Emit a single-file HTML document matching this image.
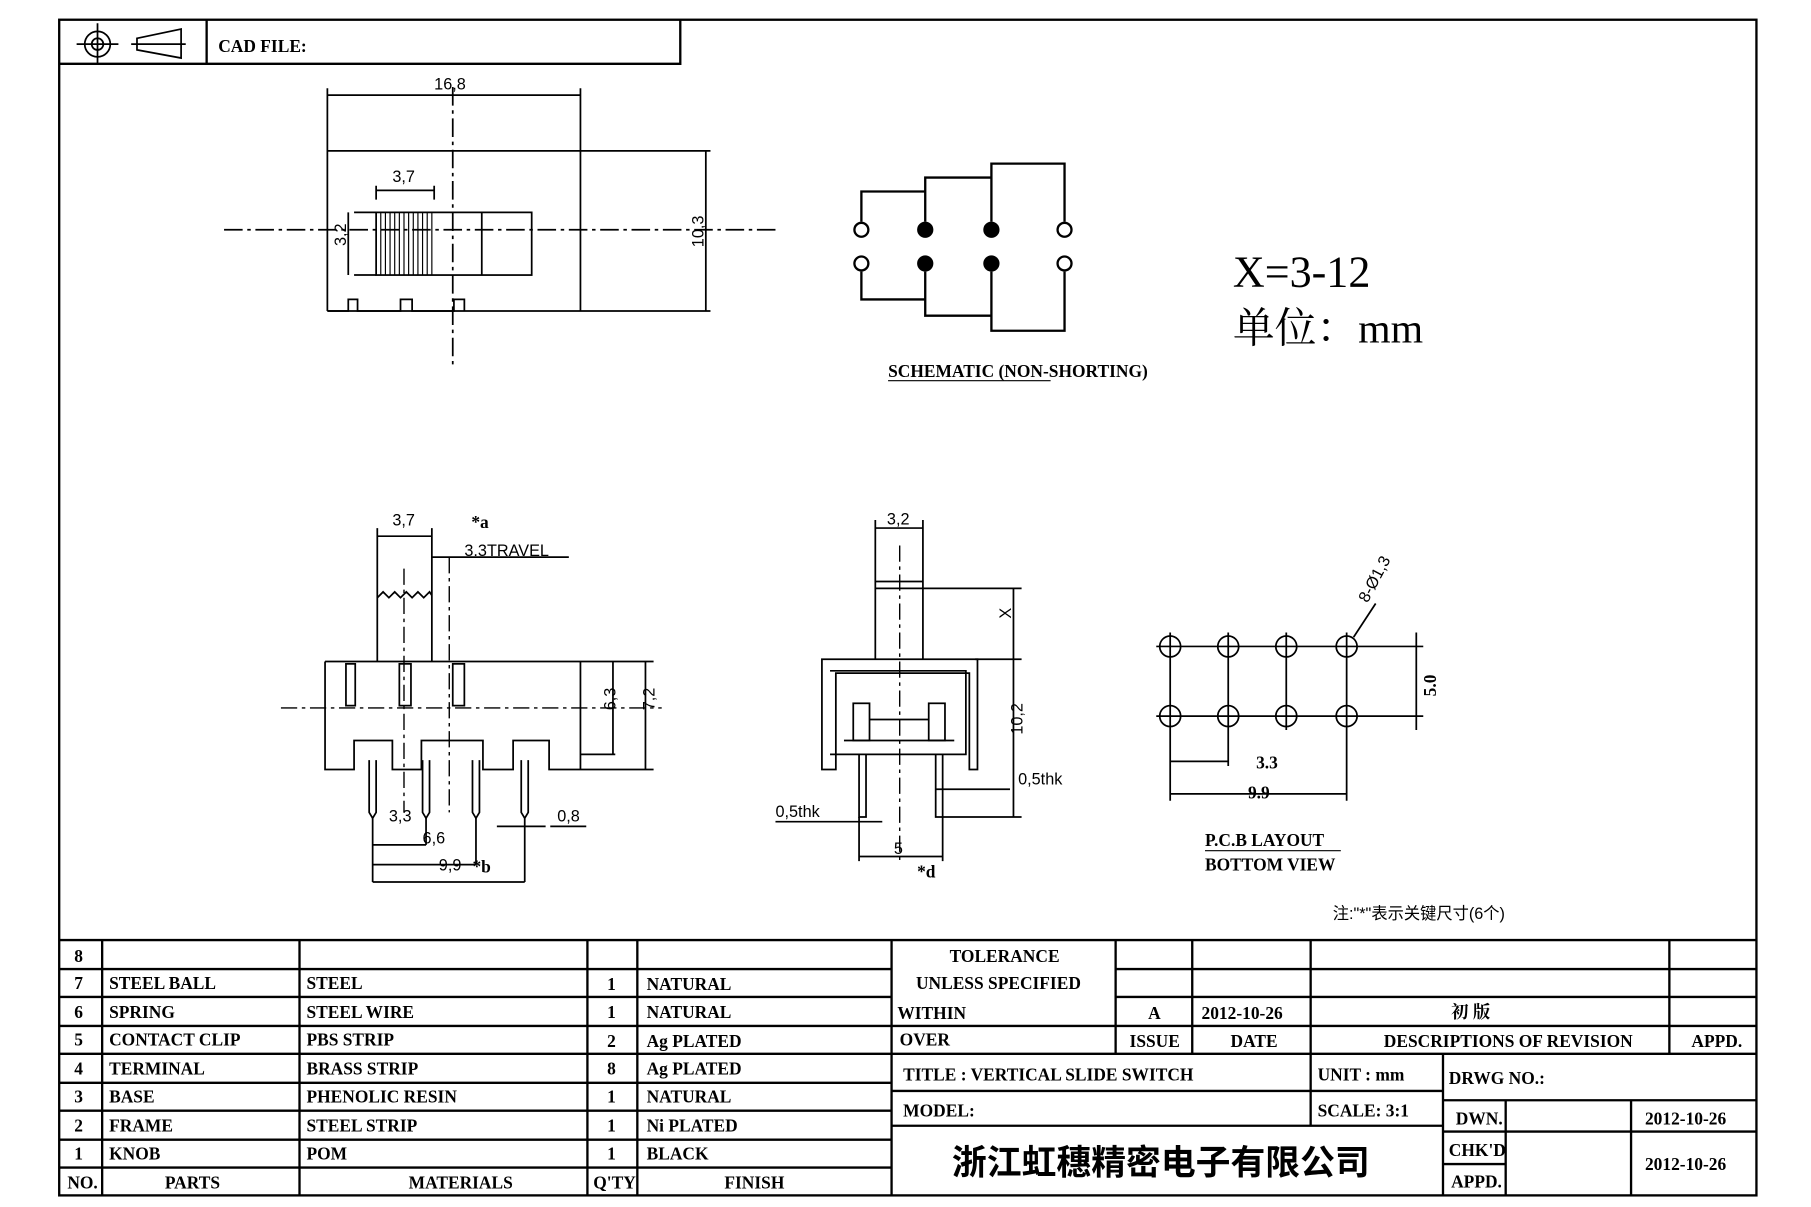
<!DOCTYPE html>
<html><head><meta charset="utf-8"><style>
html,body{margin:0;padding:0;background:#fff}
svg{display:block}
text{font-family:"Liberation Serif","Noto Serif CJK SC",serif;fill:#000}
.t{font-weight:bold;font-size:15px}
.s{font-family:"Liberation Sans","Noto Sans CJK SC",sans-serif;font-size:14px}
</style></head><body>
<svg width="1811" height="1207" viewBox="0 0 1560 1040" preserveAspectRatio="none" xmlns="http://www.w3.org/2000/svg">
<rect width="1560" height="1040" fill="#fff"/>
<g fill="none" stroke="#000" stroke-width="2">
<rect x="51" y="17" width="1462" height="1013"/>
<path d="M51 55H586V17M178 17V55"/>
</g>
<!-- header symbols -->
<g fill="none" stroke="#000" stroke-width="1.5">
<circle cx="84" cy="38" r="11"/><circle cx="84" cy="38" r="5"/>
<path d="M66 38H102M84 20V56"/>
<path d="M118 33L156 25V50L118 43ZM113 38H160"/>
</g>
<text x="188" y="45" class="t" font-size="17">CAD FILE:</text>

<!-- TOP VIEW -->
<g fill="none" stroke="#000" stroke-width="1.5">
<path d="M282 76V268M500 76V268M282 82H500"/>
<path d="M282 130H612M282 268H612"/>
<path d="M282 268H300V258H308V268H345V258H355V268H391V258H400V268"/>
<rect x="324" y="183" width="134" height="54"/>
<path d="M415 183V237M305 183H324M305 237H324M300 183V237M324 172V160M374 172V160M324 164H374M608 130V268"/>
</g>
<g stroke="#000" stroke-width="1">
<path d="M328 183V237M332 183V237M336 183V237M340 183V237M344 183V237M348 183V237M352 183V237M356 183V237M360 183V237M364 183V237M368 183V237M372 183V237"/>
</g>
<g stroke="#000" stroke-width="1.5" stroke-dasharray="16,4,3,4" fill="none">
<path d="M193 198H668"/><path d="M390 75V315"/>
</g>
<text x="374" y="77" class="s">16,8</text>
<text x="338" y="157" class="s">3,7</text>
<text x="298" y="212" class="s" transform="rotate(-90 298 212)">3,2</text>
<text x="606" y="213" class="s" transform="rotate(-90 606 213)">10,3</text>

<!-- SCHEMATIC -->
<g fill="none" stroke="#000" stroke-width="2">
<path d="M742 191V165H797V191M797 165V153H854V191M854 153V141H917V191"/>
<path d="M742 234V258H797V234M797 258V272H854V234M854 272V285H917V234"/>
<circle cx="742" cy="198" r="6" fill="#fff"/><circle cx="917" cy="198" r="6" fill="#fff"/>
<circle cx="742" cy="227" r="6" fill="#fff"/><circle cx="917" cy="227" r="6" fill="#fff"/>
</g>
<g fill="#000"><circle cx="797" cy="198" r="7"/><circle cx="854" cy="198" r="7"/><circle cx="797" cy="227" r="7"/><circle cx="854" cy="227" r="7"/></g>
<text x="765" y="325" class="t" font-size="11">SCHEMATIC (NON-SHORTING)</text>
<path d="M765 328H905" stroke="#000" stroke-width="1"/>
<text x="1062" y="247" font-size="38">X=3-12</text>
<text x="1062" y="295" font-size="36">单位：mm</text>

<!-- FRONT VIEW -->
<g fill="none" stroke="#000" stroke-width="1.5">
<path d="M325 455V570M372 455V570M325 462H372M372 480H490"/>
<path d="M325 515l5 -5l5 5l5-5l5 5l5-5l5 5l5-5l5 5l5-5l2 3"/>
<path d="M280 570H563M280 570V663H305V638H338V663H363V638H416V663H442V638H473V663H500V570M500 663H563M473 663H500M500 650H530"/>
<rect x="298" y="572" width="8" height="36"/><rect x="344" y="572" width="10" height="36"/><rect x="390" y="572" width="10" height="36"/>
<path d="M318 655V700l3 5l3-5V655M364 655V700l3 5l3-5V655M407 655V700l3 5l3-5V655M449 655V700l3 5l3-5V655"/>
<path d="M528 570V650M556 570V663M321 705V760M367 705V728M410 705V745M452 705V760M321 728H367M321 745H410M321 760H452"/>
<path d="M428 712H470M474 712H505"/>
</g>
<g stroke="#000" stroke-width="1.2" stroke-dasharray="14,4,3,4" fill="none">
<path d="M242 610H570M348 490V700M387 480V700"/>
</g>
<text x="338" y="453" class="s">3,7</text>
<text x="406" y="455" class="t" font-size="16">*a</text>
<text x="400" y="479" class="s">3.3TRAVEL</text>
<text x="536" y="622" class="s" transform="rotate(-90 528 620)">6,3</text>
<text x="564" y="628" class="s" transform="rotate(-90 556 620)">7,2</text>
<text x="335" y="708" class="s">3,3</text>
<text x="364" y="727" class="s">6,6</text>
<text x="378" y="750" class="s">9,9</text>
<text x="407" y="752" class="t" font-size="16">*b</text>
<text x="480" y="708" class="s">0,8</text>

<!-- SIDE VIEW -->
<g fill="none" stroke="#000" stroke-width="1.5">
<path d="M754 448V568M795 448V568M754 455H795M754 501H795M754 507H795M795 507H880M840 568H880"/>
<path d="M708 568H842V663H835V580H720V663H708Z"/>
<path d="M715 578H832V650H715"/>
<rect x="735" y="606" width="14" height="32"/><rect x="800" y="606" width="14" height="32"/>
<path d="M727 638H822M749 620H800"/>
<path d="M740 650V704H746V650M806 650V704H812V650"/>
<path d="M873 507V704M812 704H880M740 704V742M812 704V742M740 738H812M806 680H870M668 708H760M822 680H840"/>
</g>
<path d="M775 470V742" stroke="#000" stroke-width="1.2" stroke-dasharray="14,4,3,4"/>
<text x="764" y="452" class="s">3,2</text>
<text x="873" y="545" class="s" transform="rotate(-90 866 540)">X</text>
<text x="873" y="655" class="s" transform="rotate(-90 866 640)">10,2</text>
<text x="877" y="676" class="s">0,5thk</text>
<text x="668" y="704" class="s">0,5thk</text>
<text x="770" y="736" class="s">5</text>
<text x="790" y="756" class="t" font-size="16">*d</text>

<!-- PCB -->
<g fill="none" stroke="#000" stroke-width="1.5">
<circle cx="1008" cy="557" r="9"/><circle cx="1058" cy="557" r="9"/><circle cx="1108" cy="557" r="9"/><circle cx="1160" cy="557" r="9"/>
<circle cx="1008" cy="617" r="9"/><circle cx="1058" cy="617" r="9"/><circle cx="1108" cy="617" r="9"/><circle cx="1160" cy="617" r="9"/>
<path d="M996 557H1226M996 617H1226M1008 545V690M1058 545V660M1108 545V629M1160 545V690M1220 545V629M1008 656H1058M1008 684H1160M1166 549L1185 520"/>
</g>
<text x="1178" y="520" class="s" transform="rotate(-62 1178 520)">8-Ø1,3</text>
<text x="1232" y="605" class="t" transform="rotate(-90 1232 600)" font-size="14">5.0</text>
<text x="1082" y="662" class="t" font-size="14">3.3</text>
<text x="1075" y="688" class="t" font-size="14">9.9</text>
<text x="1038" y="729" class="t" font-size="17">P.C.B LAYOUT</text>
<text x="1038" y="750" class="t" font-size="17">BOTTOM VIEW</text>
<path d="M1038 733H1155" stroke="#000" stroke-width="1"/>
<text x="1148" y="792" class="s" font-size="15">注:"*"表示关键尺寸(6个)</text>

<!-- TABLE -->
<g fill="none" stroke="#000" stroke-width="2">
<path d="M51 810H1513"/>
<path d="M51 835H768M51 859H768M51 884H768M51 908H768M51 933H768M51 957H768M51 982H768M51 1006H768"/>
<path d="M88 810V1030M258 810V1030M506 810V1030M549 810V1030M768 810V1030"/>
<path d="M961 835H1513M961 859H1513M768 884H1513M768 908H1513"/>
<path d="M961 810V908M1027 810V908M1129 810V908M1438 810V908"/>
<path d="M768 940H1243M768 970H1243M1129 908V970M1243 908V1030M1243 948H1513M1243 975H1513M1243 1003H1297M1297 948V1030M1405 948V1030"/>
</g>
<g class="t">
<text x="64" y="829" class="t">8</text>
<text x="64" y="852" class="t">7</text><text x="94" y="852" class="t">STEEL BALL</text><text x="264" y="852" class="t">STEEL</text><text x="523" y="853" class="t">1</text><text x="557" y="853" class="t">NATURAL</text>
<text x="64" y="877" class="t">6</text><text x="94" y="877" class="t">SPRING</text><text x="264" y="877" class="t">STEEL WIRE</text><text x="523" y="877" class="t">1</text><text x="557" y="877" class="t">NATURAL</text>
<text x="64" y="901" class="t">5</text><text x="94" y="901" class="t">CONTACT CLIP</text><text x="264" y="901" class="t">PBS STRIP</text><text x="523" y="902" class="t">2</text><text x="557" y="902" class="t">Ag PLATED</text>
<text x="64" y="926" class="t">4</text><text x="94" y="926" class="t">TERMINAL</text><text x="264" y="926" class="t">BRASS STRIP</text><text x="523" y="926" class="t">8</text><text x="557" y="926" class="t">Ag PLATED</text>
<text x="64" y="950" class="t">3</text><text x="94" y="950" class="t">BASE</text><text x="264" y="950" class="t">PHENOLIC RESIN</text><text x="523" y="950" class="t">1</text><text x="557" y="950" class="t">NATURAL</text>
<text x="64" y="975" class="t">2</text><text x="94" y="975" class="t">FRAME</text><text x="264" y="975" class="t">STEEL STRIP</text><text x="523" y="975" class="t">1</text><text x="557" y="975" class="t">Ni PLATED</text>
<text x="64" y="999" class="t">1</text><text x="94" y="999" class="t">KNOB</text><text x="264" y="999" class="t">POM</text><text x="523" y="999" class="t">1</text><text x="557" y="999" class="t">BLACK</text>
<text x="58" y="1024" class="t">NO.</text><text x="142" y="1024" class="t">PARTS</text><text x="352" y="1024" class="t">MATERIALS</text><text x="511" y="1024" class="t">Q'TY</text><text x="624" y="1024" class="t">FINISH</text>
<text x="818" y="829" class="t">TOLERANCE</text>
<text x="789" y="852" class="t">UNLESS  SPECIFIED</text>
<text x="773" y="878" class="t">WITHIN</text><text x="775" y="901" class="t">OVER</text>
<text x="989" y="878" class="t">A</text><text x="1035" y="878" class="t">2012-10-26</text>
<text x="1250" y="877" class="t">初  版</text>
<text x="973" y="902" class="t">ISSUE</text><text x="1060" y="902" class="t">DATE</text><text x="1192" y="902" class="t">DESCRIPTIONS OF REVISION</text><text x="1457" y="902" class="t">APPD.</text>
<text x="778" y="931" class="t" font-size="19">TITLE :  VERTICAL SLIDE SWITCH</text>
<text x="1135" y="931" class="t">UNIT :  mm</text>
<text x="1248" y="934" class="t">DRWG NO.:</text>
<text x="778" y="962" class="t" font-size="19">MODEL:</text>
<text x="1135" y="962" class="t">SCALE:  3:1</text>
<text x="1254" y="969" class="t">DWN.</text><text x="1417" y="969" class="t">2012-10-26</text>
<text x="1248" y="996" class="t">CHK'D</text><text x="1417" y="1008" class="t">2012-10-26</text>
<text x="1250" y="1023" class="t">APPD.</text>
<text x="820" y="1012" font-size="30" style="font-family:'Noto Sans CJK SC',sans-serif">浙江虹穗精密电子有限公司</text>
</g>
</svg>
</body></html>
